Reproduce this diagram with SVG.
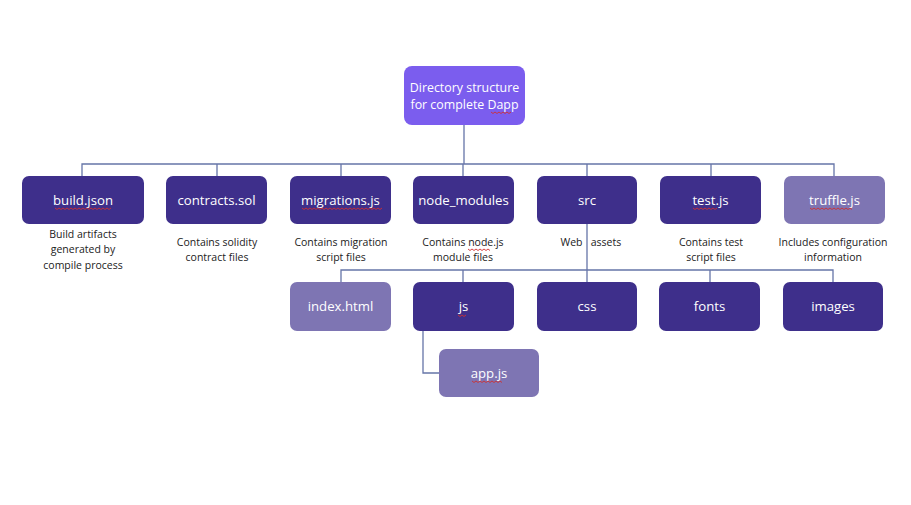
<svg xmlns="http://www.w3.org/2000/svg" width="911" height="505" viewBox="0 0 911 505">
<style>
.bx{fill:#3E2F8B}
.lt{fill:#7E75B3}
.rt{fill:#7B5DEE}
.t{font-family:"Open Sans","Liberation Sans",sans-serif;font-size:13.2px;fill:#fff;text-anchor:middle}
.r{font-size:12.4px}
.d{font-family:"Open Sans","Liberation Sans",sans-serif;font-size:10.5px;fill:#222;text-anchor:middle}
.c{fill:none;stroke:#6675A8;stroke-width:1.3}
.sq{fill:none;stroke:#d03030;stroke-width:0.9}
</style>
<rect width="911" height="505" fill="#fff"/>
<g id="connectors">
<path class="c" d="M464 125V164M82 176V164H834V176M217 164V176M341 164V176M463 164V176M587 164V176M711 164V176"/>
<path class="c" d="M587 224V282M341 282V270H833V282M463 270V282M710 270V282"/>
<path class="c" d="M423 331V373H439"/>
</g>
<g id="root"><rect class="rt" x="404" y="66" width="121" height="59" rx="8"/><text class="t r" x="464.5" y="92">Directory structure</text><text class="t r" x="464.5" y="109">for complete Dapp</text><path class="sq" d="M491 112l2 1.5 2-1.5 2 1.5 2-1.5 2 1.5 2-1.5 2 1.5 2-1.5 2 1.5 2-1.5"/></g>
<g id="build"><rect class="bx" x="22" y="176" width="122" height="48" rx="7"/><text class="t" x="83" y="205">build.json</text><path class="sq" d="M55 208l2 1.5 2-1.5 2 1.5 2-1.5 2 1.5 2-1.5 2 1.5 2-1.5 2 1.5 2-1.5 2 1.5 2-1.5 2 1.5 2-1.5 2 1.5 2-1.5 2 1.5 2-1.5 2 1.5 2-1.5 2 1.5 2-1.5 2 1.5 2-1.5 2 1.5 2-1.5 2 1.5 2-1.5"/>
<text class="d" x="83" y="238">Build artifacts</text><text class="d" x="83" y="253">generated by</text><text class="d" x="83" y="269">compile process</text></g>
<g id="contracts"><rect class="bx" x="166" y="176" width="101" height="48" rx="7"/><text class="t" x="216.5" y="205">contracts.sol</text><text class="d" x="217" y="246">Contains solidity</text><text class="d" x="217" y="261">contract files</text></g>
<g id="migrations"><rect class="bx" x="290" y="176" width="101" height="48" rx="7"/><text class="t" x="340.5" y="205">migrations.js</text><path class="sq" d="M302 208l2 1.5 2-1.5 2 1.5 2-1.5 2 1.5 2-1.5 2 1.5 2-1.5 2 1.5 2-1.5 2 1.5 2-1.5 2 1.5 2-1.5 2 1.5 2-1.5 2 1.5 2-1.5 2 1.5 2-1.5 2 1.5 2-1.5 2 1.5 2-1.5 2 1.5 2-1.5 2 1.5 2-1.5 2 1.5 2-1.5 2 1.5 2-1.5 2 1.5 2-1.5 2 1.5 2-1.5 2 1.5 2-1.5 2 1.5 2-1.5"/><text class="d" x="341" y="246">Contains migration</text><text class="d" x="341" y="261">script files</text></g>
<g id="node_modules"><rect class="bx" x="413" y="176" width="101" height="48" rx="7"/><text class="t" x="463.5" y="205">node_modules</text><text class="d" x="463" y="246">Contains node.js</text><text class="d" x="463" y="261">module files</text><path class="sq" d="M468 249l2 1.5 2-1.5 2 1.5 2-1.5 2 1.5 2-1.5 2 1.5 2-1.5 2 1.5 2-1.5 2 1.5"/></g>
<g id="src"><rect class="bx" x="537" y="176" width="100" height="48" rx="7"/><text class="t" x="587" y="205">src</text><text class="d" x="571.5" y="246">Web</text><text class="d" x="606" y="246">assets</text></g>
<g id="test"><rect class="bx" x="660" y="176" width="101" height="48" rx="7"/><text class="t" x="710.5" y="205">test.js</text><path class="sq" d="M693 208l2 1.5 2-1.5 2 1.5 2-1.5 2 1.5 2-1.5 2 1.5 2-1.5 2 1.5 2-1.5 2 1.5 2-1.5"/><text class="d" x="711" y="246">Contains test</text><text class="d" x="711" y="261">script files</text></g>
<g id="truffle"><rect class="lt" x="784" y="176" width="101" height="48" rx="7"/><text class="t" x="834.5" y="205">truffle.js</text><path class="sq" d="M810 208l2 1.5 2-1.5 2 1.5 2-1.5 2 1.5 2-1.5 2 1.5 2-1.5 2 1.5 2-1.5 2 1.5 2-1.5 2 1.5 2-1.5 2 1.5 2-1.5 2 1.5 2-1.5 2 1.5 2-1.5 2 1.5"/><text class="d" x="833" y="246">Includes configuration</text><text class="d" x="833" y="261">information</text></g>
<g id="index"><rect class="lt" x="290" y="282" width="101" height="49" rx="7"/><text class="t" x="340.5" y="311">index.html</text></g>
<g id="js"><rect class="bx" x="413" y="282" width="101" height="49" rx="7"/><text class="t" x="463.5" y="311">js</text><path class="sq" d="M458 315l2 1.5 2-1.5 2 1.5 2-1.5"/></g>
<g id="css"><rect class="bx" x="537" y="282" width="100" height="49" rx="7"/><text class="t" x="587" y="311">css</text></g>
<g id="fonts"><rect class="bx" x="659" y="282" width="101" height="49" rx="7"/><text class="t" x="709.5" y="311">fonts</text></g>
<g id="images"><rect class="bx" x="783" y="282" width="100" height="49" rx="7"/><text class="t" x="833" y="311">images</text></g>
<g id="app"><rect class="lt" x="439" y="349" width="100" height="48" rx="7"/><text class="t" x="489" y="378">app.js</text><path class="sq" d="M472 381l2 1.5 2-1.5 2 1.5 2-1.5 2 1.5 2-1.5 2 1.5 2-1.5 2 1.5 2-1.5 2 1.5 2-1.5 2 1.5 2-1.5 2 1.5"/></g>
</svg>
